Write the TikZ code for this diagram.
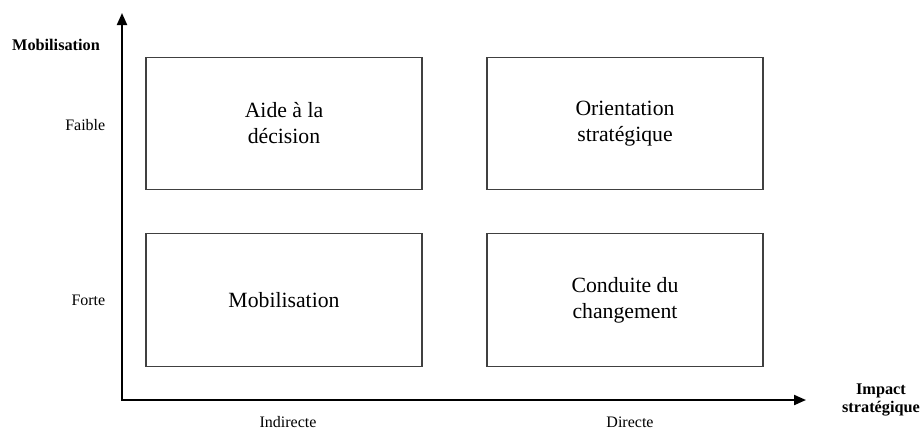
\documentclass[tikz,border=0pt]{standalone}
\usepackage{fontspec}
\setmainfont{Liberation Serif}
\usepackage{tikz}
\usetikzlibrary{arrows.meta,positioning}

\begin{document}
\begin{tikzpicture}[x=0.75pt,y=-0.75pt]

\tikzset{quadrant/.style={draw=black!75, line width=0.8pt, minimum width=207pt, minimum height=99.5pt, inner sep=0pt, align=center, font=\fontsize{16.3}{19.5}\selectfont},
         axis/.style={line width=1.5pt, {Triangle[length=9pt,width=7.5pt]}-{Triangle[length=9pt,width=7.5pt]}},
         tick/.style={font=\fontsize{12}{14}\selectfont},
         axislabel/.style={font=\fontsize{12.2}{14}\selectfont\bfseries, align=center}}

\useasboundingbox (0,0) rectangle (923,430);

% axes
\coordinate (O) at (122,400);
\coordinate (ytop) at (122,13);
\coordinate (xend) at (806,400);
\draw[axis] (ytop) -- (O) -- (xend);

% the four boxes
\node[quadrant] (aide) at (284,123.5) {Aide à la\\décision};
\node[quadrant] (orient) at (625,123.5) {Orientation\\stratégique};
\node[quadrant] (mobil) at (284,300) {Mobilisation};
\node[quadrant] (conduite) at (625,300) {Conduite du\\changement};

% labels
\node[axislabel] (ylab) at (56,45) {Mobilisation};
\node[tick, anchor=east] (faible) at (110,125) {Faible};
\node[tick, anchor=east] (forte) at (110,300) {Forte};
\node[tick] (indirecte) at (288,422) {Indirecte};
\node[tick] (directe) at (630,422) {Directe};
\node[axislabel] (xlab) at (881,400) {Impact\\stratégique};

\end{tikzpicture}
\end{document}
